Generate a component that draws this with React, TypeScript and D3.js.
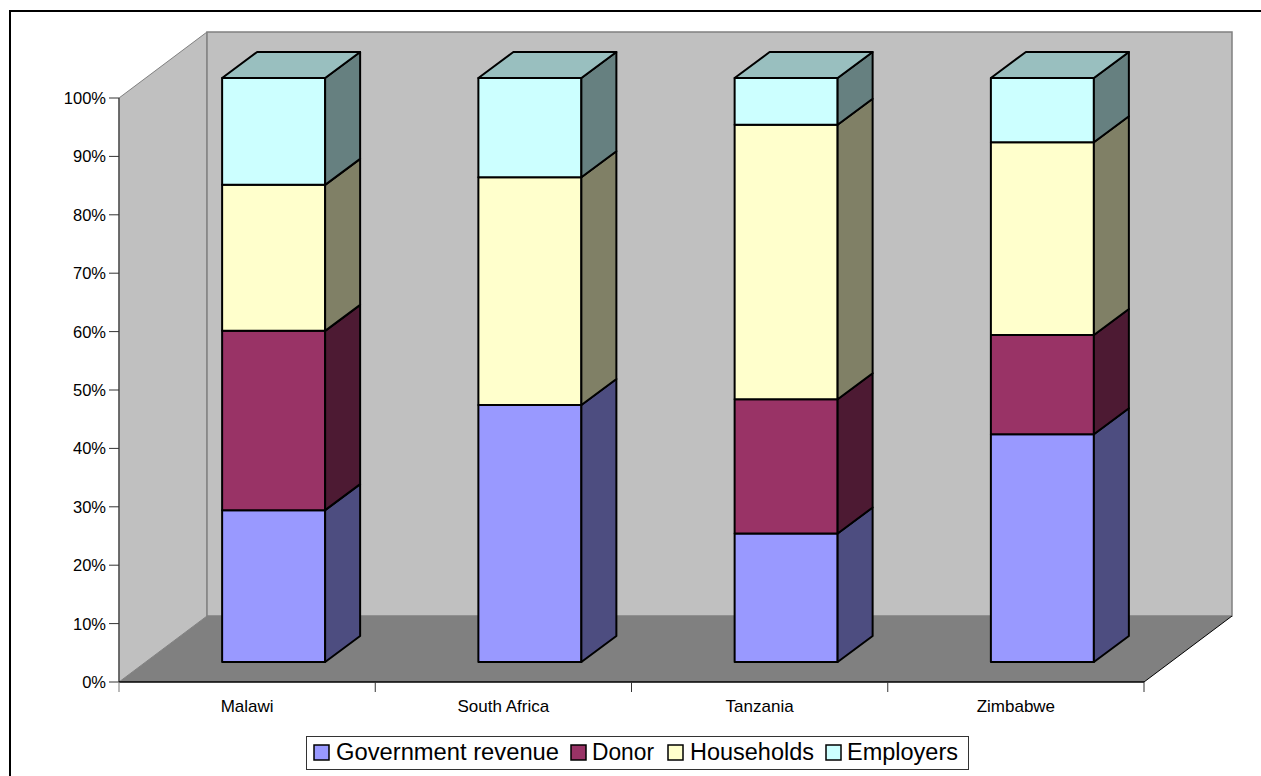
import React from "react";
import * as d3 from "d3";

const countries = ["Malawi", "South Africa", "Tanzania", "Zimbabwe"];
const seriesNames = ["Government revenue", "Donor", "Households", "Employers"];
const governmentRevenue = [26, 44, 22, 39];
const donor = [30.7, 0, 23, 17];
const households = [25, 39, 47, 33];
const employers = [18.3, 17, 8, 11];
const seriesValues = [governmentRevenue, donor, households, employers];
const yTicks = [0, 10, 20, 30, 40, 50, 60, 70, 80, 90, 100];

const frontColors = ["#9999FF", "#993366", "#FFFFCC", "#CCFFFF"];
const sideColors = ["#4D4D80", "#4D1A33", "#808066", "#668080"];
const topColors = ["#7373BF", "#732649", "#BFBF99", "#99BFBF"];

const plot = { left: 119, right: 1144, top: 98, bottom: 682 };
const wallDepth = { dx: 88, dy: 66 };
const barDepth = { dx: 35, dy: 26 };

const FONT = "'Liberation Sans', Arial, sans-serif";

const x = d3.scaleBand<string>().domain(countries).range([plot.left, plot.right]).paddingInner(0).paddingOuter(0);
const y = d3.scaleLinear().domain([0, 100]).range([plot.bottom, plot.top]);

const pts = (p: [number, number][]) => p.map((c) => c.join(",")).join(" ");

const stack = d3
  .stack<number>()
  .keys(d3.range(seriesNames.length) as unknown as string[])
  .value((i, k) => seriesValues[+k][i]);
const layers = stack(d3.range(countries.length));

const barWidth = 103;
// Bars sit midway along the floor depth
const barShift = { dx: (wallDepth.dx - barDepth.dx) / 2, dy: (wallDepth.dy - barDepth.dy) / 2 };

function Bar({ country, idx }: { country: string; idx: number }) {
  const x0 = x(country)! + x.bandwidth() / 2 - barWidth / 2 + barShift.dx;
  const x1 = x0 + barWidth;
  const { dx, dy } = barDepth;
  const sy = (v: number) => y(v) - barShift.dy;
  return (
    <g stroke="#000" strokeWidth={2} strokeLinejoin="round">
      {layers.map((layer, s) => {
        const [v0, v1] = layer[idx];
        if (v1 === v0) return null;
        const yb = sy(v0);
        const yt = sy(v1);
        const last = s === layers.length - 1;
        return (
          <g key={s}>
            <rect x={x0} y={yt} width={barWidth} height={yb - yt} fill={frontColors[s]} />
            <polygon
              points={pts([[x1, yb], [x1 + dx, yb - dy], [x1 + dx, yt - dy], [x1, yt]])}
              fill={sideColors[s]}
            />
            {last && (
              <polygon
                points={pts([[x0, yt], [x0 + dx, yt - dy], [x1 + dx, yt - dy], [x1, yt]])}
                fill={topColors[s]}
              />
            )}
          </g>
        );
      })}
    </g>
  );
}

// Legend slots: swatch position, label position and fitted label width
const legendItems = [
  { swatch: 314, label: 336, width: 223 },
  { swatch: 571, label: 592, width: 62 },
  { swatch: 668, label: 690, width: 124 },
  { swatch: 826, label: 847, width: 111 },
];

export default function App() {
  const { left, right, top, bottom } = plot;
  const { dx, dy } = wallDepth;
  return (
    <svg
      width={1261}
      height={776}
      viewBox="0 0 1261 776"
      style={{ position: "absolute", left: 0, top: 0, display: "block", background: "#fff" }}
      fontFamily={FONT}
    >
      <rect x={10} y={11} width={1270} height={790} fill="#fff" stroke="#000" strokeWidth={2} />

      {/* Left wall, back wall and floor */}
      <polygon
        points={pts([[left, top], [left + dx, top - dy], [left + dx, bottom - dy], [left, bottom]])}
        fill="#C0C0C0"
        stroke="#808080"
        strokeWidth={1}
      />
      <rect
        x={left + dx}
        y={top - dy}
        width={right - left}
        height={bottom - top}
        fill="#C0C0C0"
        stroke="#808080"
        strokeWidth={1.5}
      />
      <polygon
        points={pts([[left, bottom], [left + dx, bottom - dy], [right + dx, bottom - dy], [right, bottom]])}
        fill="#808080"
      />
      <line x1={right} y1={bottom} x2={right + dx} y2={bottom - dy} stroke="#000" strokeWidth={1} />

      {/* Axes */}
      <line x1={left} y1={top} x2={left} y2={bottom} stroke="#555" strokeWidth={1.5} />
      <line x1={left} y1={bottom} x2={right} y2={bottom} stroke="#000" strokeWidth={1.5} />
      {yTicks.map((t) => (
        <g key={t}>
          <line x1={left - 10} y1={y(t)} x2={left} y2={y(t)} stroke="#333" strokeWidth={1} />
          <text x={106} y={y(t) + 6} textAnchor="end" fontSize={16.5} fill="#000">
            {t}%
          </text>
        </g>
      ))}
      {[...countries.map((c) => x(c)!), right].map((px, i) => (
        <line
          key={i}
          x1={px}
          y1={bottom}
          x2={px}
          y2={bottom + 10}
          stroke={i === 0 ? "#777" : "#333"}
          strokeWidth={1}
        />
      ))}
      {countries.map((c) => (
        <text key={c} x={x(c)! + x.bandwidth() / 2} y={712} textAnchor="middle" fontSize={17} fill="#000">
          {c}
        </text>
      ))}

      {countries.map((c, i) => (
        <Bar key={c} country={c} idx={i} />
      ))}

      {/* Legend */}
      <rect x={306.5} y={736.5} width={662} height={33} fill="#fff" stroke="#333" strokeWidth={1} />
      {seriesNames.map((name, i) => (
        <g key={name}>
          <rect
            x={legendItems[i].swatch}
            y={745}
            width={15}
            height={15}
            fill={frontColors[i]}
            stroke="#000"
            strokeWidth={1.5}
          />
          <text
            x={legendItems[i].label}
            y={760}
            fontSize={23}
            fill="#000"
            textLength={legendItems[i].width}
            lengthAdjust="spacingAndGlyphs"
          >
            {name}
          </text>
        </g>
      ))}
    </svg>
  );
}
